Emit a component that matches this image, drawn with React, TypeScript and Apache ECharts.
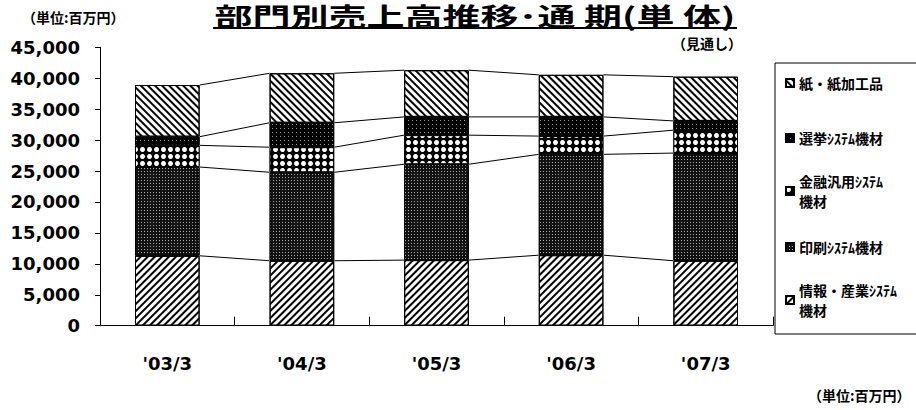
import React, { useEffect, useRef } from 'react';
import * as echarts from 'echarts';

const categories = ["'03/3", "'04/3", "'05/3", "'06/3", "'07/3"];
const infoSystems = [11300, 10500, 10600, 11400, 10500];
const printSystems = [14350, 14300, 15500, 16300, 17400];
const financeSystems = [3500, 4050, 4700, 2950, 3700];
const electionSystems = [1400, 3950, 2950, 3100, 1500];
const paperProducts = [8350, 8000, 7550, 6800, 7150];

const seriesNames = ['情報・産業ｼｽﾃﾑ機材', '印刷ｼｽﾃﾑ機材', '金融汎用ｼｽﾃﾑ機材', '選挙ｼｽﾃﾑ機材', '紙・紙加工品'];
const legendLabels: Record<string, string> = {
  '情報・産業ｼｽﾃﾑ機材': '情報・産業ｼｽﾃﾑ\n機材',
  '金融汎用ｼｽﾃﾑ機材': '金融汎用ｼｽﾃﾑ\n機材',
};
const titleText = '部門別売上高推移･通 期(単 体)';

const Y_MIN = 0;
const Y_MAX = 45000;
const Y_INTERVAL = 5000;

const BAR_RATIO = 0.48;
const CJK = '"Noto Sans CJK JP", "Noto Sans CJK SC", sans-serif';
const NUM = '"DejaVu Sans", "Liberation Sans", sans-serif';

export default function App() {
  const ref = useRef<HTMLDivElement>(null);
  useEffect(() => {
    if (!ref.current) return;
    const chart = echarts.init(ref.current, undefined, { renderer: 'svg' });
    const stacks = [infoSystems, printSystems, financeSystems, electionSystems, paperProducts];
    const cumulative = stacks.map((_, k) =>
      categories.map((__, i) => stacks.slice(0, k + 1).reduce((s, arr) => s + arr[i], 0))
    );
    const connectorData: number[][] = [];
    cumulative.forEach((level) => {
      for (let i = 0; i < categories.length - 1; i++) {
        connectorData.push([i, level[i], i + 1, level[i + 1]]);
      }
    });

    const styles: any[] = [
      {
        color: '#fff',
        decal: { symbol: 'rect', symbolSize: 1, color: '#000', dashArrayX: [1, 0], dashArrayY: [1.4, 2.2], rotation: -Math.PI / 4 },
      },
      {
        color: '#111',
        decal: { symbol: 'rect', symbolSize: 1, color: '#aaa', dashArrayX: [1, 2], dashArrayY: [1, 2] },
      },
      {
        color: '#000',
        decal: { symbol: 'circle', symbolSize: 1, color: '#fff', dashArrayX: [5, 2], dashArrayY: [5, 2] },
      },
      {
        color: '#000',
        decal: { symbol: 'rect', symbolSize: 1, color: '#999', dashArrayX: [1, 3], dashArrayY: [1, 3] },
      },
      {
        color: '#fff',
        decal: { symbol: 'rect', symbolSize: 1, color: '#000', dashArrayX: [1, 0], dashArrayY: [1.4, 2.2], rotation: Math.PI / 4 },
      },
    ];

    const barSeries = stacks.map((data, k) => ({
      name: seriesNames[k],
      type: 'bar',
      stack: 'total',
      barWidth: `${BAR_RATIO * 100}%`,
      data,
      itemStyle: { ...styles[k], borderColor: '#000', borderWidth: 1 },
      emphasis: { disabled: true },
    }));

    const LH = 20;
    const legendCenters: Record<string, number> = {
      '紙・紙加工品': 83,
      '選挙ｼｽﾃﾑ機材': 138,
      '金融汎用ｼｽﾃﾑ機材': 191,
      '印刷ｼｽﾃﾑ機材': 247,
      '情報・産業ｼｽﾃﾑ機材': 300,
    };
    const legends = Object.keys(legendCenters).map((name) => {
      const twoLine = !!legendLabels[name];
      return {
        data: [name],
        left: 785,
        top: legendCenters[name] - (twoLine ? LH * 1.5 : LH / 2),
        padding: 0,
        icon: 'rect',
        itemWidth: 8,
        itemHeight: 8,
        selectedMode: false,
        formatter: (n: string) => legendLabels[n] || n,
        textStyle: {
          fontFamily: CJK,
          fontWeight: 'bold',
          fontSize: 14,
          lineHeight: LH,
          color: '#000',
          padding: twoLine ? [LH, 0, 0, 0] : 0,
        },
      };
    });

    chart.setOption({
      animation: false,
      backgroundColor: '#fff',
      legend: legends,
      grid: { left: 100, right: 143, top: 47.3, bottom: 84.3, containLabel: false },
      xAxis: {
        type: 'category',
        data: categories,
        axisLine: { lineStyle: { color: '#000', width: 1 } },
        axisTick: { show: true, inside: true, length: 9, lineStyle: { color: '#000' } },
        axisLabel: { color: '#000', fontFamily: NUM, fontWeight: 'bold', fontSize: 18, margin: 29 },
      },
      yAxis: {
        type: 'value',
        min: Y_MIN,
        max: Y_MAX,
        interval: Y_INTERVAL,
        axisLine: { show: true, lineStyle: { color: '#000', width: 1 } },
        axisTick: { show: true, length: 5, lineStyle: { color: '#000' } },
        splitLine: { show: false },
        axisLabel: {
          color: '#000',
          fontFamily: NUM,
          fontWeight: 'bold',
          fontSize: 18,
          margin: 20,
          formatter: (v: number) => v.toLocaleString('en-US'),
        },
      },
      series: [
        ...barSeries,
        {
          type: 'custom',
          name: 'connectors',
          data: connectorData,
          encode: { x: [0, 2], y: [1, 3] },
          silent: true,
          z: 3,
          renderItem: (params: any, api: any) => {
            const p0 = api.coord([api.value(0), api.value(1)]);
            const p1 = api.coord([api.value(2), api.value(3)]);
            const band = api.size([1, 0])[0];
            const half = (band * BAR_RATIO) / 2;
            return {
              type: 'line',
              shape: { x1: p0[0] + half, y1: p0[1], x2: p1[0] - half, y2: p1[1] },
              style: { stroke: '#000', lineWidth: 1 },
            };
          },
        },
      ],
      graphic: [
        {
          type: 'text', x: 475, y: 15.5, scaleX: 1.52,
          style: {
            text: titleText, fontFamily: CJK, fontWeight: 'bold', fontSize: 25, fill: '#000',
            textAlign: 'center', textVerticalAlign: 'middle',
          },
        },
        { type: 'line', shape: { x1: 213, y1: 28, x2: 737, y2: 28 }, style: { stroke: '#000', lineWidth: 2 } },
        {
          type: 'text', x: 22, y: 17,
          style: { text: '（単位:百万円）', fontFamily: CJK, fontWeight: 'bold', fontSize: 14, fill: '#000', textVerticalAlign: 'middle' },
        },
        {
          type: 'text', x: 672, y: 43,
          style: { text: '（見通し）', fontFamily: CJK, fontWeight: 'bold', fontSize: 14, fill: '#000', textVerticalAlign: 'middle' },
        },
        {
          type: 'text', x: 808, y: 395,
          style: { text: '（単位:百万円）', fontFamily: CJK, fontWeight: 'bold', fontSize: 14, fill: '#000', textVerticalAlign: 'middle' },
        },
        {
          type: 'rect', shape: { x: 775, y: 63, width: 160, height: 271 },
          style: { fill: 'none', stroke: '#000', lineWidth: 1 }, z: -1,
        },
      ],
    });
    return () => chart.dispose();
  }, []);
  return <div ref={ref} style={{ position: 'fixed', left: 0, top: 0, width: 916, height: 410 }} />;
}
